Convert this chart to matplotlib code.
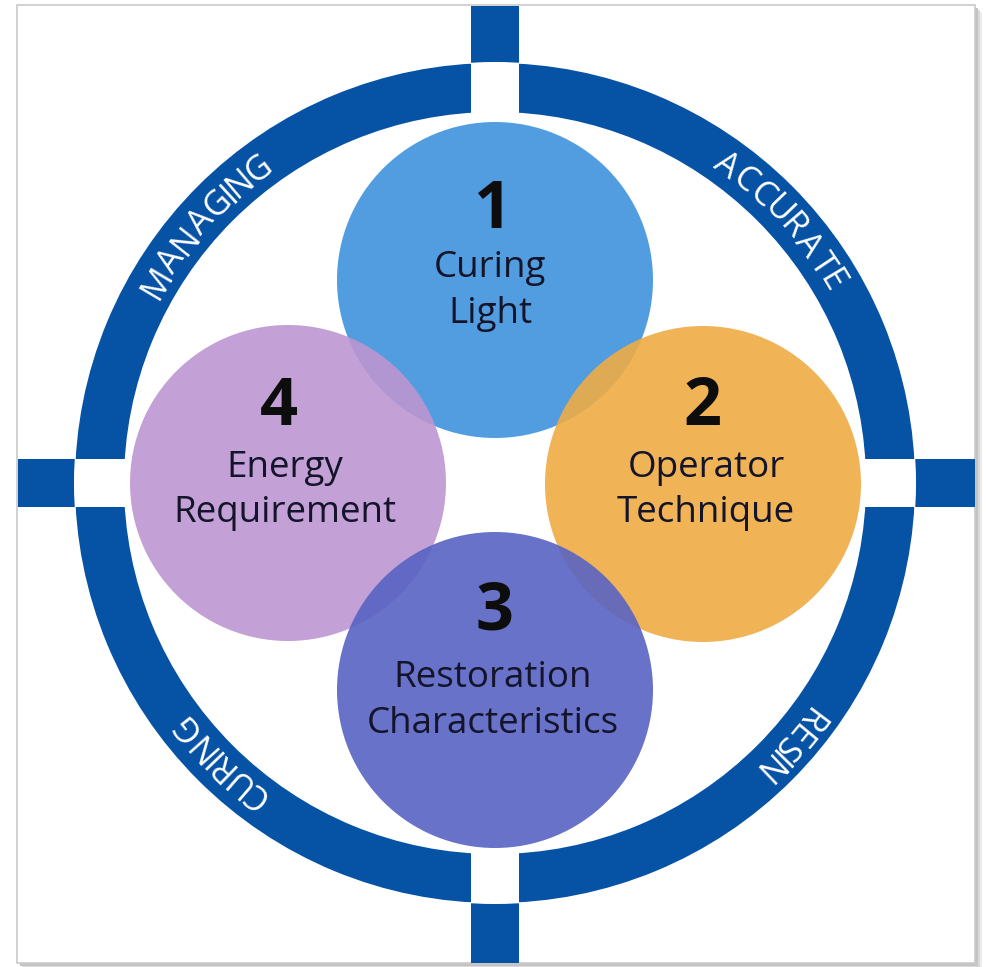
import numpy as np
import matplotlib
matplotlib.use('Agg')
import matplotlib.pyplot as plt
from matplotlib.patches import Circle, Wedge, Rectangle
from matplotlib.textpath import TextPath
from matplotlib.font_manager import FontProperties

# circle contents, in drawing order of the reference
numbers = ['1', '2', '3', '4']
labels = [['Curing', 'Light'],
          ['Operator', 'Technique'],
          ['Restoration', 'Characteristics'],
          ['Energy', 'Requirement']]
colors = ['#3f93dc', '#efac45', '#5863c3', '#bd96d1']

# words running round the ring, with the angle (deg) at their middle
ring_words = ['MANAGING', 'ACCURATE', 'RESIN', 'CURING']
ring_angles = [138.3, 42.7, 318.3, 225.3]

ring_blue = '#0653a6'
font = 'Open Sans'

# layout (pixels, y downward)
cx, cy = 495, 483
r_out, r_in = 420, 371
bar_w = 48
centers = [(495, 280), (703, 484), (495, 690), (288, 483)]
rad = 158
num_pos = [(492, 228), (703, 425), (495, 630), (279, 425)]
lab_pos = [(490, 277, 323), (706, 477, 522), (493, 687, 733), (285, 477, 522)]

fig = plt.figure(figsize=(9.87, 9.67), dpi=100)
ax = fig.add_axes([0, 0, 1, 1])
ax.set_xlim(0, 987)
ax.set_ylim(967, 0)
ax.axis('off')

# frame with a soft shadow on the right and bottom
for i, g in enumerate(['#ececec', '#dadada', '#c4c4c4']):
    off = 7 - 2 * i
    ax.add_patch(Rectangle((17 + off, 5 + off), 958, 958, facecolor=g,
                           edgecolor='none', zorder=0))
ax.add_patch(Rectangle((17, 5), 958, 958, facecolor='white',
                       edgecolor='#c9c9c9', lw=1.2, zorder=1))

# cross bars
ax.add_patch(Rectangle((cx - bar_w / 2, 6), bar_w, 957, color=ring_blue, lw=0, zorder=2))
ax.add_patch(Rectangle((17.5, cy - bar_w / 2), 957, bar_w, color=ring_blue, lw=0, zorder=2))
ax.add_patch(Circle((cx, cy), r_out, color='white', lw=0, zorder=3))

# ring with white gaps where the bars cross it
ring = Wedge((cx, cy), r_out, 0, 360, width=r_out - r_in, color=ring_blue, lw=0, zorder=4)
ax.add_patch(ring)
clip = Wedge((cx, cy), r_out + 1, 0, 360, width=r_out - r_in + 2, transform=ax.transData)
for rect in [Rectangle((cx - bar_w / 2, 0), bar_w, 967),
             Rectangle((0, cy - bar_w / 2), 987, bar_w)]:
    rect.set_facecolor('white')
    rect.set_edgecolor('none')
    rect.set_zorder(5)
    ax.add_patch(rect)
    rect.set_clip_path(clip)

# curved ring text, letters upright pointing outward, read clockwise
fs_ring = 24.5
fp = FontProperties(family=font, size=fs_ring, weight='medium')
px = fs_ring * 100 / 72
r_base = (r_out + r_in) / 2 - 0.714 * px / 2
track = 3.5
for word, ang in zip(ring_words, ring_angles):
    widths = [TextPath((0, 0), ch, size=px, prop=fp).get_extents().width for ch in word]
    total = sum(widths) + track * (len(word) - 1)
    s = -total / 2
    for ch, w in zip(word, widths):
        mid = s + w / 2
        th = np.radians(ang) - mid / r_base
        x = cx + r_base * np.cos(th)
        y = cy - r_base * np.sin(th)
        ax.text(x, y, ch, fontproperties=fp, color='white',
                rotation=np.degrees(th) - 90, rotation_mode='anchor',
                ha='center', va='baseline', zorder=6)
        s += w + track

# the four circles, drawn 1, 2, 4, 3 so the overlaps stack as in the reference
for i in [0, 1, 3, 2]:
    ax.add_patch(Circle(centers[i], rad, facecolor=colors[i], edgecolor='none',
                        alpha=0.9, zorder=7))

for i in range(4):
    ax.text(num_pos[i][0], num_pos[i][1], numbers[i], fontsize=48, family=font,
            fontweight='bold', color='#0d0d0d', ha='center', va='baseline', zorder=8)
    x, y1, y2 = lab_pos[i]
    for txt, y in zip(labels[i], (y1, y2)):
        ax.text(x, y, txt, fontsize=26.5, family=font, color='#14142a',
                ha='center', va='baseline', zorder=8)

fig.savefig('out.png', dpi=100)
